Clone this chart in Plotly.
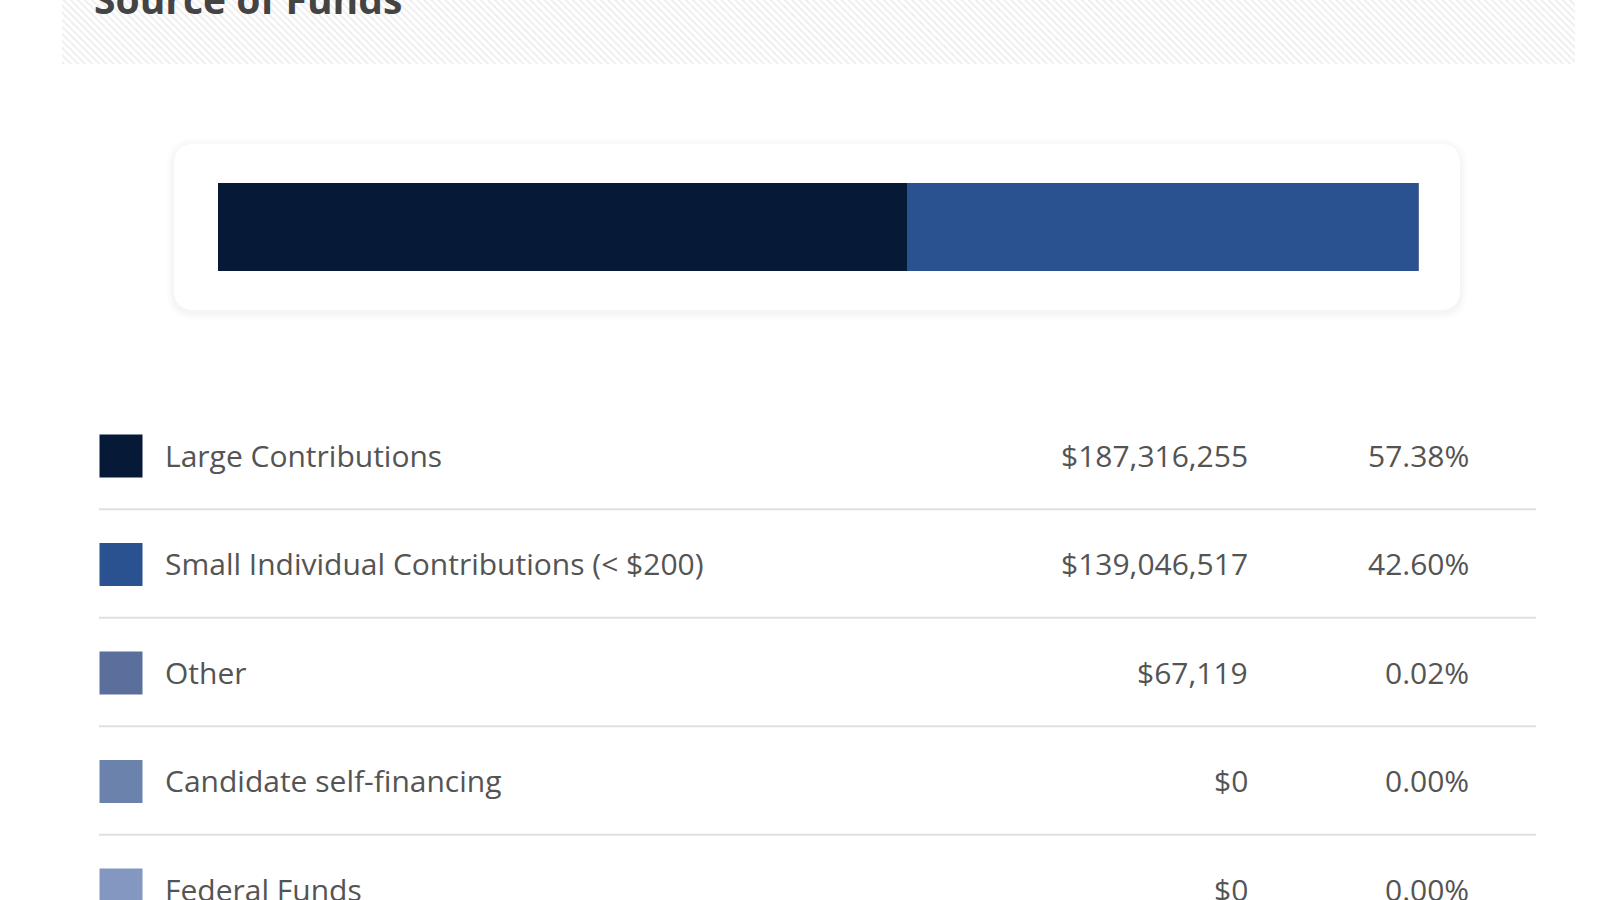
import plotly.graph_objects as go

# ---------------- data ----------------
categories = ["Large Contributions", "Small Individual Contributions (< $200)", "Other",
              "Candidate self-financing", "Federal Funds"]
amounts = [187316255, 139046517, 67119, 0, 0]
percent_labels = ["57.38%", "42.60%", "0.02%", "0.00%", "0.00%"]
colors = ["#061a38", "#2a5190", "#5a6f9b", "#6b82ad", "#8397c1"]
title_text = "Source of Funds"

W, H = 1600, 900
total = sum(amounts)

fig = go.Figure()

# ---------- header hatched band (page pixel axes x/y) ----------
fig.add_trace(go.Scatter(
    x=[62, 1575, 1575, 62, 62], y=[-5, -5, 64, 64, -5],
    xaxis="x", yaxis="y", mode="lines", line=dict(width=0),
    fill="toself", fillcolor="rgba(0,0,0,0)",
    fillpattern=dict(shape="\\", fgcolor="#dcdcdc", bgcolor="#ffffff", size=5, solidity=0.35),
    hoverinfo="skip", showlegend=False))

# ---------- table rows ----------
row0, row_step = 455, 108.5
row_y = [row0 + row_step * i for i in range(len(categories))]

fig.add_trace(go.Scatter(
    x=[121] * len(categories), y=[y + 1 for y in row_y], xaxis="x", yaxis="y", mode="markers",
    marker=dict(symbol="square", size=43, color=colors, line=dict(width=0)),
    hoverinfo="skip", showlegend=False))

# ---------- stacked horizontal bar (x2/y2) ----------
for cat, val, col in zip(categories, amounts, colors):
    fig.add_trace(go.Bar(
        x=[val], y=[0], orientation="h", name=cat, width=1,
        marker=dict(color=col, line=dict(width=0)),
        xaxis="x2", yaxis="y2", showlegend=False, hoverinfo="x+name"))

annotations = []
font_family = "Open Sans"
txt_font = dict(family=font_family, size=30, color="#545454")
for i, (cat, val, pct) in enumerate(zip(categories, amounts, percent_labels)):
    y = row_y[i]
    annotations.append(dict(x=163, y=y, xref="x", yref="y", text=cat, showarrow=False,
                            xanchor="left", yanchor="middle", font=txt_font))
    annotations.append(dict(x=1250, y=y, xref="x", yref="y", text=f"${val:,}", showarrow=False,
                            xanchor="right", yanchor="middle", font=txt_font))
    annotations.append(dict(x=1471, y=y, xref="x", yref="y", text=pct, showarrow=False,
                            xanchor="right", yanchor="middle", font=txt_font))

# title (clipped at top)
annotations.append(dict(x=92, y=14, xref="x", yref="y", text=f"<b>{title_text}</b>",
                        showarrow=False, xanchor="left", yanchor="bottom",
                        font=dict(family=font_family, size=39, color="#444444"), yshift=-13))

# ---------- shapes: card + shadow + separators ----------
def rounded_rect(x0, y0, x1, y1, r):
    return (f"M {x0+r},{y0} L {x1-r},{y0} Q {x1},{y0} {x1},{y0+r} "
            f"L {x1},{y1-r} Q {x1},{y1} {x1-r},{y1} L {x0+r},{y1} "
            f"Q {x0},{y1} {x0},{y1-r} L {x0},{y0+r} Q {x0},{y0} {x0+r},{y0} Z")

shapes = []
cx0, cy0, cx1, cy1 = 174, 144, 1460, 310
for k, a in [(8, 0.006), (6, 0.008), (4, 0.01), (2, 0.012)]:
    shapes.append(dict(type="path", xref="x", yref="y",
                       path=rounded_rect(cx0 - k, cy0 - k + 2, cx1 + k, cy1 + k + 2, 20 + k),
                       fillcolor=f"rgba(0,0,0,{a})", line=dict(width=0), layer="below"))
shapes.append(dict(type="path", xref="x", yref="y", path=rounded_rect(cx0, cy0, cx1, cy1, 20),
                   fillcolor="#ffffff", line=dict(width=0), layer="below"))

for i in range(len(categories) - 1):
    y = (row_y[i] + row_y[i + 1]) / 2
    shapes.append(dict(type="line", xref="x", yref="y", x0=99, x1=1536, y0=y, y1=y,
                       line=dict(color="#e0e0e0", width=2), layer="below"))

fig.update_layout(
    width=W, height=H, margin=dict(l=0, r=0, t=0, b=0),
    paper_bgcolor="#ffffff", plot_bgcolor="rgba(0,0,0,0)",
    barmode="stack", bargap=0,
    xaxis=dict(domain=[0, 1], range=[0, W], visible=False, fixedrange=True),
    yaxis=dict(domain=[0, 1], range=[H, 0], visible=False, fixedrange=True),
    xaxis2=dict(domain=[218 / W, 1419 / W], range=[0, total], visible=False,
                fixedrange=True, anchor="y2"),
    yaxis2=dict(domain=[1 - 271 / H, 1 - 183 / H], range=[-0.5, 0.5], visible=False,
                fixedrange=True, anchor="x2"),
    shapes=shapes, annotations=annotations, showlegend=False,
)

fig.write_html("out.html")
